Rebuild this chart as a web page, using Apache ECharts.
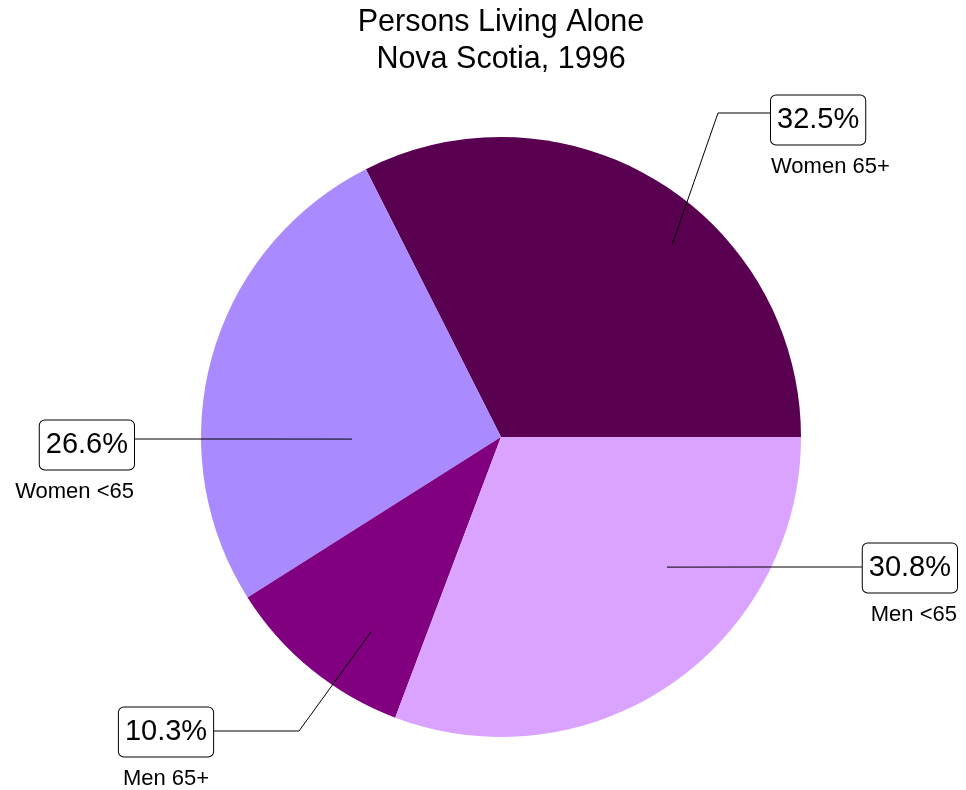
<!DOCTYPE html>
<html><head><meta charset="utf-8">
<script src="https://cdn.jsdelivr.net/npm/echarts@6/dist/echarts.min.js"></script>
<style>html,body{margin:0;padding:0;background:#fff}#c{width:966px;height:790px}</style>
</head><body><div id="c"></div>
<script>
const categories = ['Women 65+', 'Women <65', 'Men 65+', 'Men <65'];
const values = [32.5, 26.6, 10.3, 30.8];
const colors = ['#590050', '#a98bff', '#800080', '#d9a3ff'];
const titleLines = ['Persons Living Alone', 'Nova Scotia, 1996'];

const FONT = '"Liberation Sans", Arial, sans-serif';
const CX = 501, CY = 437, R = 300;
// label placement (relative to pie centre): anchor = [angle deg, radius fraction]
const labelSpots = [
  { anchor: [48.3, 0.857], bend: [217, -324], end: [269, -324], pos: [270, -342], align: 'left' },
  { anchor: [180.8, 0.497], bend: [-250, 2], end: [-368, 2], pos: [-367, -17], align: 'right' },
  { anchor: [236.3, 0.78], bend: [-202, 294], end: [-287, 294], pos: [-335, 270], align: 'center' },
  { anchor: [321.9, 0.703], bend: [260, 130], end: [364, 130], pos: [456, 106], align: 'right' }
];

const pieData = categories.map((c, i) => ({ name: c, value: values[i], itemStyle: { color: colors[i] } }));

const chart = echarts.init(document.getElementById('c'), null, { renderer: 'canvas' });
chart.setOption({
  animation: false,
  backgroundColor: '#fff',
  title: {
    text: titleLines.join('\n'),
    left: 496,
    textAlign: 'center',
    top: -1,
    textStyle: { fontFamily: FONT, fontSize: 30.5, lineHeight: 37, fontWeight: 'normal', color: '#000' }
  },
  series: [{
    type: 'pie',
    z: 2,
    center: [CX, CY],
    radius: R,
    startAngle: 0,
    clockwise: false,
    silent: true,
    emphasis: { disabled: true },
    itemStyle: { borderWidth: 0 },
    label: { show: false },
    labelLine: { show: false },
    data: pieData
  }, {
    type: 'pie',
    z: 5,
    center: [CX, CY],
    radius: R,
    startAngle: 0,
    clockwise: false,
    silent: true,
    avoidLabelOverlap: false,
    emphasis: { disabled: true },
    itemStyle: { borderWidth: 0, color: 'rgba(0,0,0,0)' },
    data: categories.map((c, i) => ({ name: c, value: values[i] })),
    label: {
      show: true,
      position: 'outside',
      color: '#000',
      fontFamily: FONT,
      formatter: p => '{pct|' + p.value.toFixed(1) + '%}\n{name|' + p.name + '}',
      rich: {
        pct: { fontFamily: FONT, fontSize: 29, lineHeight: 50, padding: [10, 6, 10, 6], borderColor: '#000', borderWidth: 1, borderRadius: 5, backgroundColor: '#fff', color: '#000' },
        name: { fontFamily: FONT, fontSize: 22, lineHeight: 44, color: '#000' }
      }
    },
    labelLine: { show: true, length: 20, length2: 20, lineStyle: { color: '#000', width: 1 } },
    labelLayout: function (p) {
      const s = labelSpots[p.dataIndex];
      const a = s.anchor[0] * Math.PI / 180, r = s.anchor[1] * R;
      const ax = CX + r * Math.cos(a), ay = CY - r * Math.sin(a);
      return {
        x: CX + s.pos[0], y: CY + s.pos[1], align: s.align, verticalAlign: 'top',
        labelLinePoints: [[ax, ay], [CX + s.bend[0], CY + s.bend[1]], [CX + s.end[0], CY + s.end[1]]]
      };
    }
  }]
});
</script></body></html>
